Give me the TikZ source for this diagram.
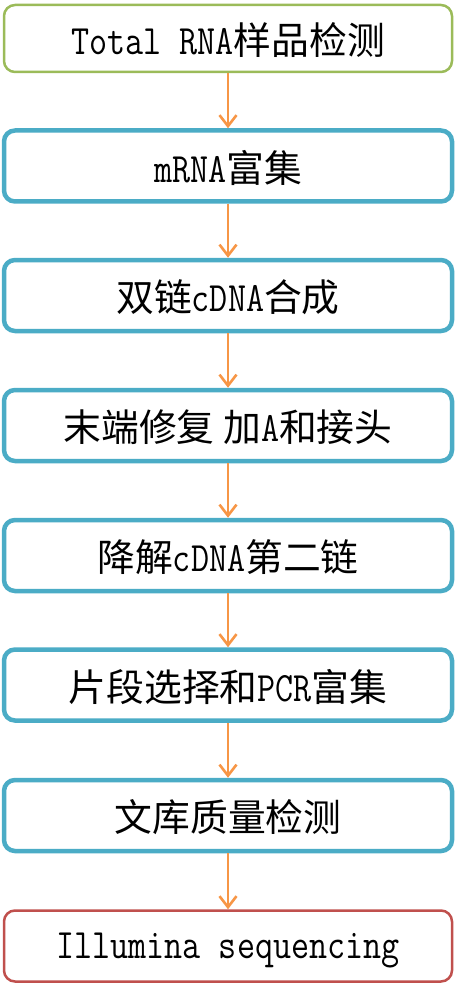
\documentclass[tikz,border=0pt]{standalone}
\usepackage{fontspec}
\newfontfamily\cjk[Scale=1.05]{Noto Sans CJK SC}
\newfontfamily\latinmono[FakeStretch=0.84,Scale=1.16]{Latin Modern Mono}
\usetikzlibrary{arrows.meta}
\definecolor{stepgreen}{HTML}{9BBB59}
\definecolor{stepblue}{HTML}{4BACC6}
\definecolor{stepred}{HTML}{C0504D}
\definecolor{flowarrow}{HTML}{F79646}
\newcommand{\lt}[1]{{\latinmono #1}}
\newcommand{\zh}[1]{{\cjk #1}}
\begin{document}
\begin{tikzpicture}[x=1pt,y=-1pt,
  stepbox/.style={draw, rounded corners=11pt, fill=white,
    minimum width=448pt, minimum height=70pt, inner sep=0pt,
    font=\fontsize{36}{40}\selectfont, text depth=0pt},
  firstbox/.style={stepbox, draw=stepgreen, line width=2.5pt, minimum height=67pt},
  midbox/.style={stepbox, draw=stepblue, line width=4.5pt, minimum height=71pt},
  lastbox/.style={stepbox, draw=stepred, line width=2.5pt, minimum height=71pt},
  flow/.style={draw=flowarrow, line width=2.6pt,
    -{Straight Barb[length=11pt,width=17pt]}}]
\useasboundingbox (0,0) rectangle (456,992);

\node[firstbox] (s1) at (228,38.5) {\lt{Total RNA}\zh{样品检测}};
\node[midbox]   (s2) at (228,166)  {\lt{mRNA}\zh{富集}};
\node[midbox]   (s3) at (228,295.5){\zh{双链}\lt{cDNA}\zh{合成}};
\node[midbox]   (s4) at (228,425.5){\zh{末端修复 加}\lt{A}\zh{和接头}};
\node[midbox]   (s5) at (228,555.5){\zh{降解}\lt{cDNA}\zh{第二链}};
\node[midbox]   (s6) at (228,685)  {\zh{片段选择和}\lt{PCR}\zh{富集}};
\node[midbox]   (s7) at (228,815.5){\zh{文库质量检测}};
\node[lastbox]  (s8) at (228,946)  {\lt{Illumina sequencing}};

\foreach \a/\b in {s1/s2,s2/s3,s3/s4,s4/s5,s5/s6,s6/s7,s7/s8}
  \draw[flow] (\a.south) -- (\b.north);
\end{tikzpicture}
\end{document}
